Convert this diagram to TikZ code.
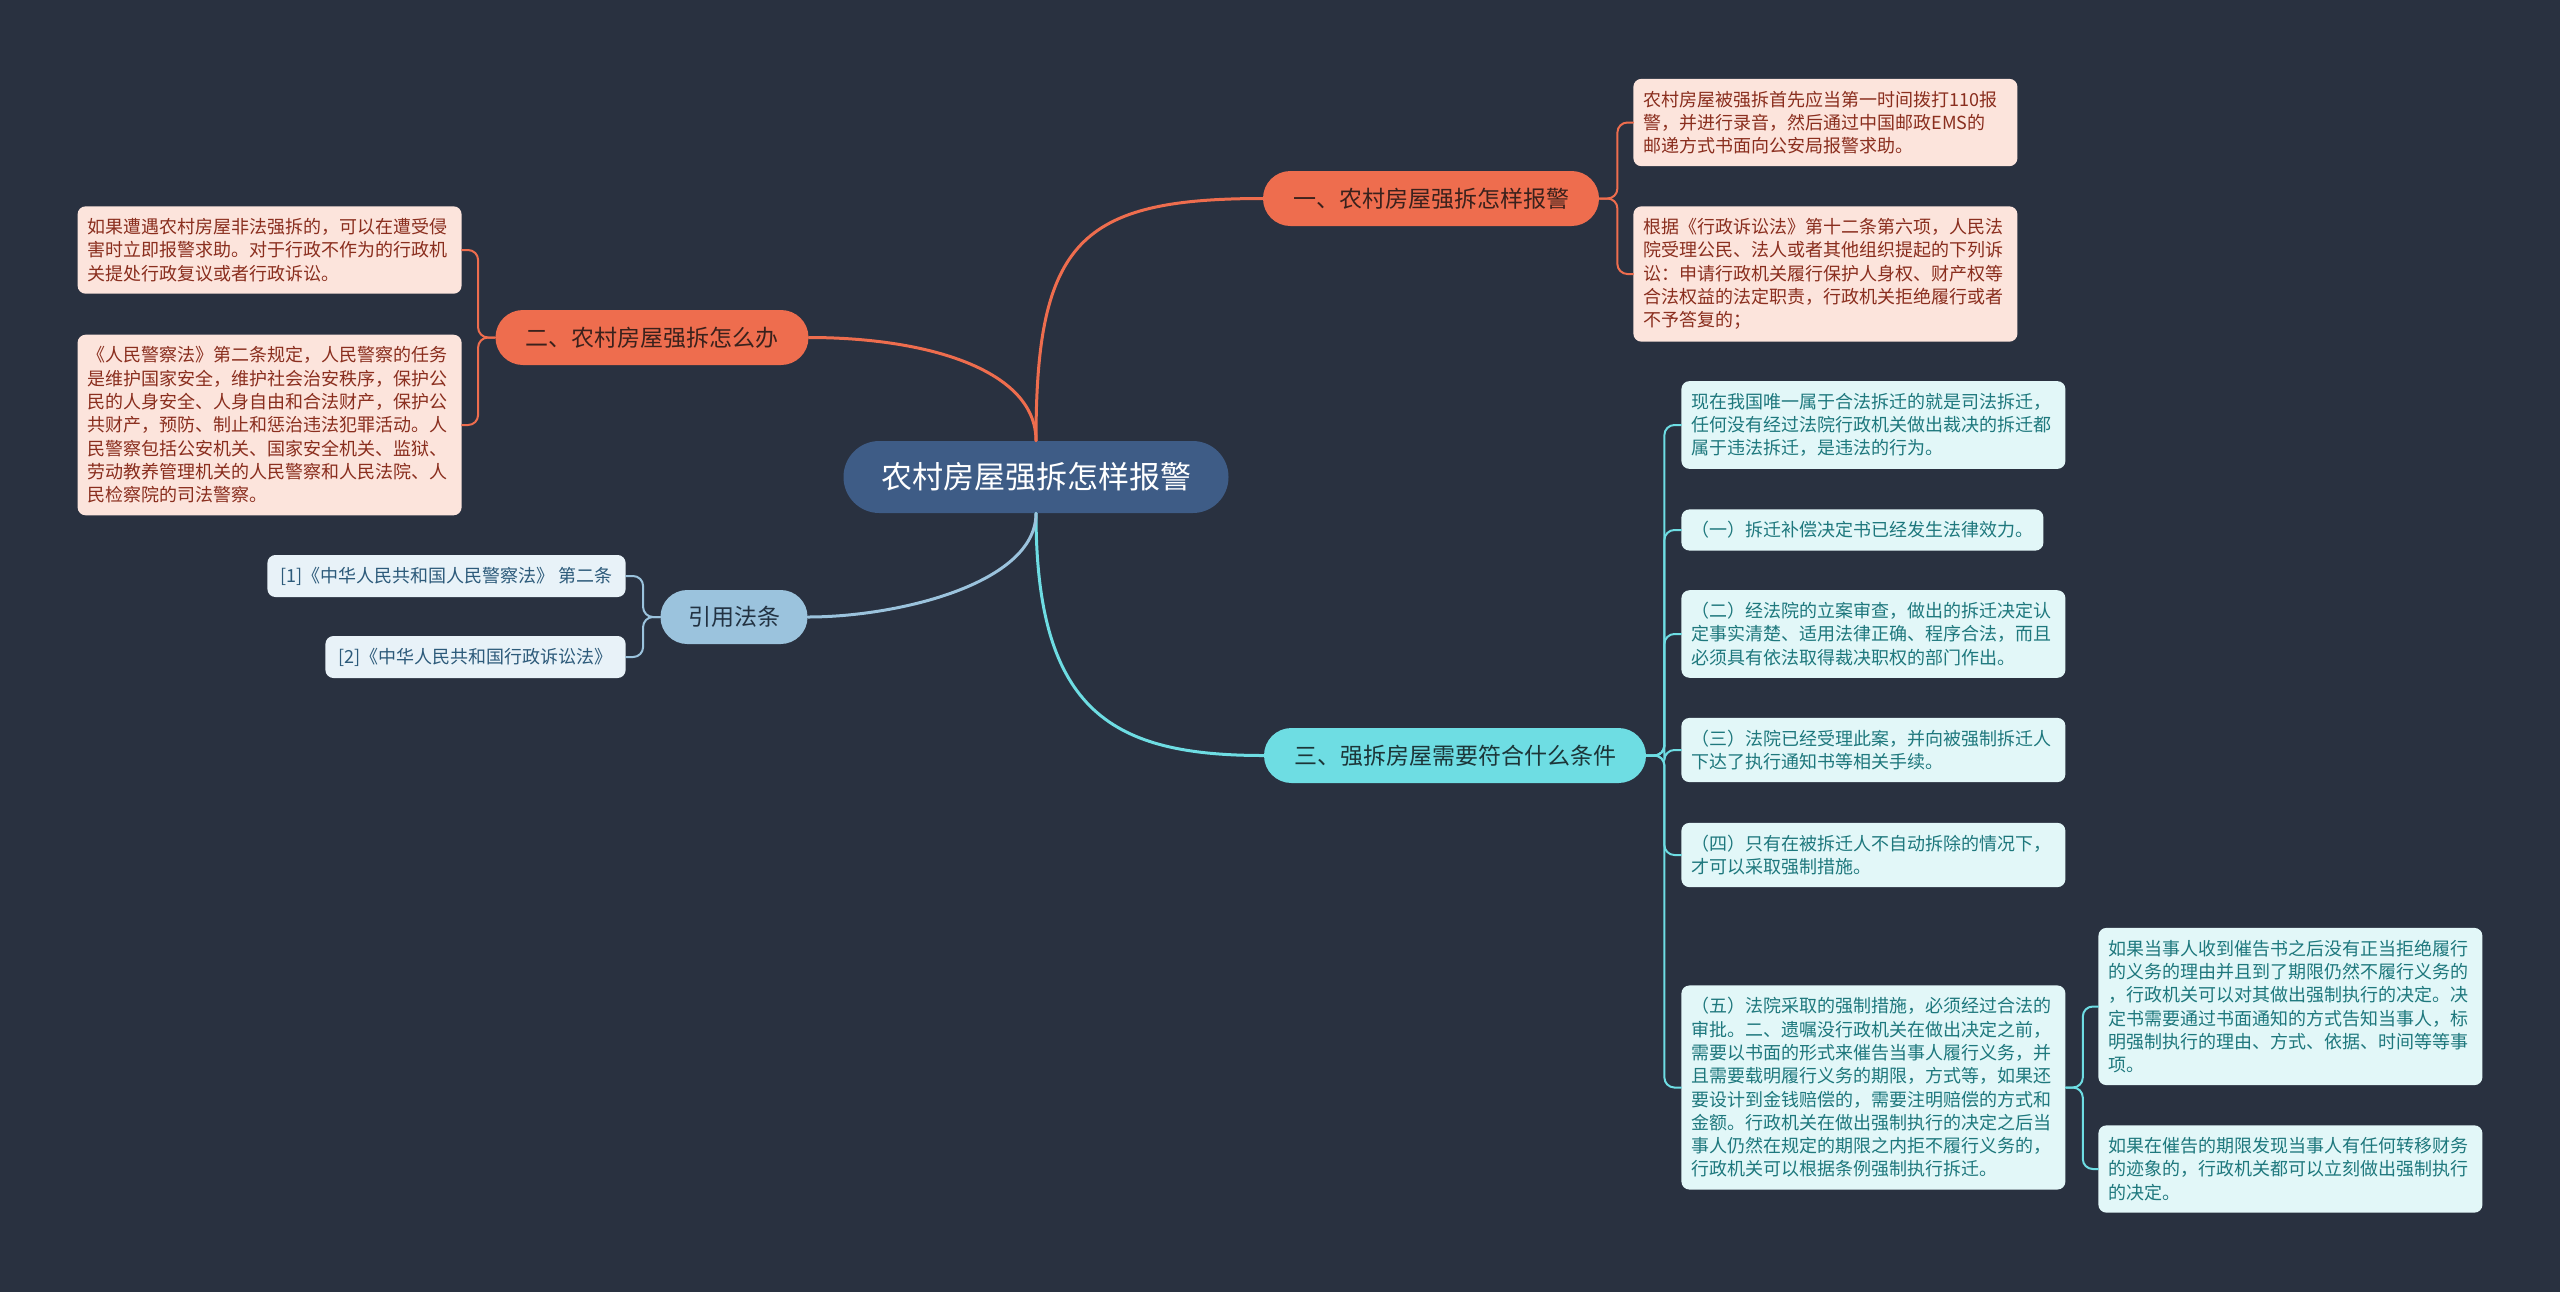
\documentclass[tikz,border=0pt]{standalone}
\usepackage{fontspec}
\setmainfont{Noto Sans CJK SC}
\usepackage{xcolor}
\usetikzlibrary{calc}
\definecolor{fond}{HTML}{293140}
\definecolor{bleucentre}{HTML}{3E5C86}
\definecolor{corail}{HTML}{EE6D4E}
\definecolor{corailfonce}{HTML}{3A211C}
\definecolor{corailclair}{HTML}{FCE4DC}
\definecolor{corailtexte}{HTML}{8A2E1E}
\definecolor{turquoise}{HTML}{6EDDE3}
\definecolor{turquoisefonce}{HTML}{1C3538}
\definecolor{turquoiseclair}{HTML}{E2F7F8}
\definecolor{turquoisetexte}{HTML}{1E787D}
\definecolor{bleuref}{HTML}{9BC3DD}
\definecolor{bleureffonce}{HTML}{223242}
\definecolor{bleurefclair}{HTML}{E8F2F8}
\definecolor{bleureftexte}{HTML}{2C5A7A}
\tikzset{
  centre/.style={fill=bleucentre, text=white, rounded corners=17.9pt, minimum height=36pt, inner xsep=18.75pt, font=\fontsize{15.5}{18}\selectfont},
  branche/.style={rounded corners=13.7pt, minimum height=27.5pt, inner xsep=15pt, font=\fontsize{11.5}{14}\selectfont},
  brancheO/.style={branche, fill=corail, text=corailfonce},
  brancheT/.style={branche, fill=turquoise, text=turquoisefonce},
  brancheR/.style={branche, fill=bleuref, text=bleureffonce, inner xsep=13.75pt, minimum height=27pt, rounded corners=13.4pt},
  feuille/.style={rounded corners=4pt, inner xsep=5pt, inner ysep=6pt, align=left, font=\fontsize{9}{11.65}\selectfont},
  large/.style={text width=182pt},
  feuilleO/.style={feuille, large, fill=corailclair, text=corailtexte},
  feuilleT/.style={feuille, fill=turquoiseclair, text=turquoisetexte},
  refeuille/.style={feuille, fill=bleurefclair, text=bleureftexte, inner xsep=6.5pt, inner ysep=0pt, minimum height=21pt},
  lien/.style={line width=1.5pt},
  accolade/.style={line width=1pt, rounded corners=5pt},
}
\begin{document}
\begin{tikzpicture}[x=0.5pt,y=-0.5pt,line join=round,line cap=round]
\fill[fond] (0,0) rectangle (2560,1292);
\useasboundingbox (0,0) rectangle (2560,1292);
% centre et branches
\node[centre] (C) at (1036,477) {农村房屋强拆怎样报警};
\node[brancheO] (B1) at (1431,198.5) {一、农村房屋强拆怎样报警};
\node[brancheO] (B2) at (652,337.5) {二、农村房屋强拆怎么办};
\node[brancheR] (B4) at (734,617) {引用法条};
\node[brancheT] (B3) at (1455,755.5) {三、强拆房屋需要符合什么条件};
\draw[lien,corail] (C.north) .. controls +(0,-199) and +(-183,0) .. (B1.west);
\draw[lien,corail] (C.north) .. controls +(0,-70) and +(120,0) .. (B2.east);
\draw[lien,turquoise] (C.south) .. controls +(0,200) and +(-150,0) .. (B3.west);
\draw[lien,bleuref] (C.south) .. controls +(0,70) and +(90,0) .. (B4.east);
% feuilles
\node[feuilleO,anchor=west] (F1a) at (1633,122.5) {农村房屋被强拆首先应当第一时间拨打110报\\警，并进行录音，然后通过中国邮政EMS的\\邮递方式书面向公安局报警求助。};
\node[feuilleO,anchor=west] (F1b) at (1633,274) {根据《行政诉讼法》第十二条第六项，人民法\\院受理公民、法人或者其他组织提起的下列诉\\讼：申请行政机关履行保护人身权、财产权等\\合法权益的法定职责，行政机关拒绝履行或者\\不予答复的；};
\node[feuilleO,anchor=east] (F2a) at (462,250) {如果遭遇农村房屋非法强拆的，可以在遭受侵\\害时立即报警求助。对于行政不作为的行政机\\关提处行政复议或者行政诉讼。};
\node[feuilleO,anchor=east] (F2b) at (462,425) {《人民警察法》第二条规定，人民警察的任务\\是维护国家安全，维护社会治安秩序，保护公\\民的人身安全、人身自由和合法财产，保护公\\共财产，预防、制止和惩治违法犯罪活动。人\\民警察包括公安机关、国家安全机关、监狱、\\劳动教养管理机关的人民警察和人民法院、人\\民检察院的司法警察。};
\node[refeuille,anchor=east] (R1) at (626,576) {[1]《中华人民共和国人民警察法》 第二条};
\node[refeuille,anchor=east] (R2) at (626,657) {[2]《中华人民共和国行政诉讼法》};
\node[feuilleT,large,anchor=west] (F3a) at (1681,425) {现在我国唯一属于合法拆迁的就是司法拆迁，\\任何没有经过法院行政机关做出裁决的拆迁都\\属于违法拆迁，是违法的行为。};
\node[feuilleT,anchor=west] (F3b) at (1681,530) {（一）拆迁补偿决定书已经发生法律效力。};
\node[feuilleT,large,anchor=west] (F3c) at (1681,634) {（二）经法院的立案审查，做出的拆迁决定认\\定事实清楚、适用法律正确、程序合法，而且\\必须具有依法取得裁决职权的部门作出。};
\node[feuilleT,large,anchor=west] (F3d) at (1681,750) {（三）法院已经受理此案，并向被强制拆迁人\\下达了执行通知书等相关手续。};
\node[feuilleT,large,anchor=west] (F3e) at (1681,855) {（四）只有在被拆迁人不自动拆除的情况下，\\才可以采取强制措施。};
\node[feuilleT,large,anchor=west] (F3f) at (1681,1087.5) {（五）法院采取的强制措施，必须经过合法的\\审批。二、遗嘱没行政机关在做出决定之前，\\需要以书面的形式来催告当事人履行义务，并\\且需要载明履行义务的期限，方式等，如果还\\要设计到金钱赔偿的，需要注明赔偿的方式和\\金额。行政机关在做出强制执行的决定之后当\\事人仍然在规定的期限之内拒不履行义务的，\\行政机关可以根据条例强制执行拆迁。};
\node[feuilleT,large,anchor=west] (F3g) at (2098,1006.5) {如果当事人收到催告书之后没有正当拒绝履行\\的义务的理由并且到了期限仍然不履行义务的\\，行政机关可以对其做出强制执行的决定。决\\定书需要通过书面通知的方式告知当事人，标\\明强制执行的理由、方式、依据、时间等等事\\项。};
\node[feuilleT,large,anchor=west] (F3h) at (2098,1169) {如果在催告的期限发现当事人有任何转移财务\\的迹象的，行政机关都可以立刻做出强制执行\\的决定。};
% accolades
\foreach \f in {F1a,F1b}
  \draw[accolade,corail] (B1.east) -- ++(18,0) |- (\f.west);
\foreach \f in {F2a,F2b}
  \draw[accolade,corail] (B2.west) -- ++(-17,0) |- (\f.east);
\foreach \f in {R1,R2}
  \draw[accolade,bleuref] (B4.west) -- ++(-17,0) |- (\f.east);
\foreach \f in {F3a,F3b,F3c,F3d,F3e,F3f}
  \draw[accolade,turquoise] (B3.east) -- ++(18,0) |- (\f.west);
\foreach \f in {F3g,F3h}
  \draw[accolade,turquoise] (F3f.east) -- ++(17,0) |- (\f.west);
\end{tikzpicture}
\end{document}
